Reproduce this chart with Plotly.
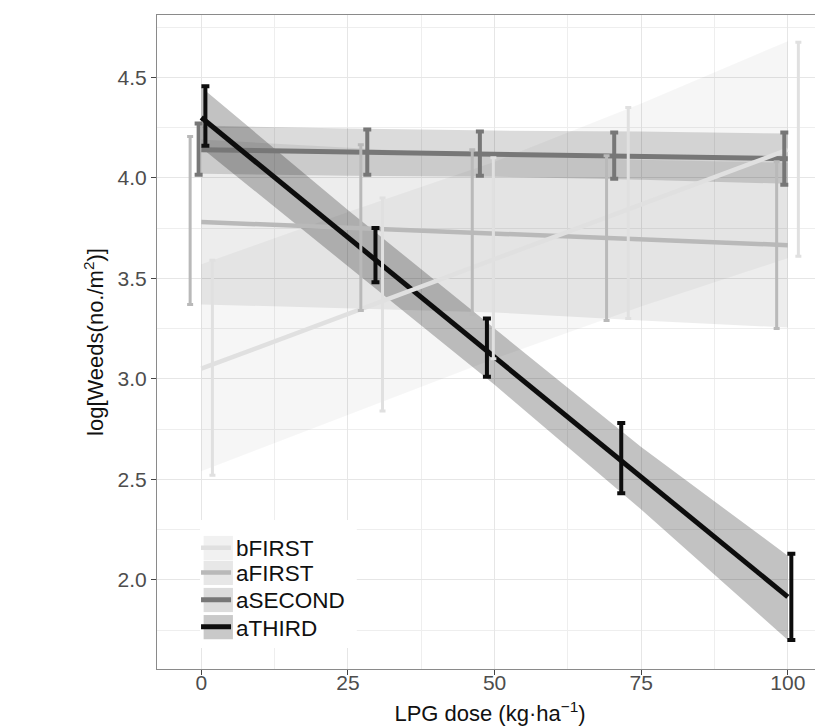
import plotly.graph_objects as go

# ---------------- data ----------------
series = ["bFIRST", "aFIRST", "aSECOND", "aTHIRD"]

# fitted regression lines (endpoints at dose 0 and 100)
fit_x = [0, 100]
fit_bFIRST = [3.05, 4.14]
fit_aFIRST = [3.78, 3.665]
fit_aSECOND = [4.14, 4.095]
fit_aTHIRD = [4.30, 1.915]

# confidence bands
band_x = [0, 25, 50, 75, 100]
band_hi_bFIRST = [3.57, 3.83, 4.08, 4.37, 4.68]
band_lo_bFIRST = [2.54, 2.82, 3.10, 3.36, 3.60]
band_hi_aFIRST = [4.19, 4.15, 4.11, 4.09, 4.075]
band_lo_aFIRST = [3.37, 3.35, 3.33, 3.29, 3.255]
band_hi_aSECOND = [4.26, 4.245, 4.235, 4.23, 4.22]
band_lo_aSECOND = [4.02, 4.01, 4.005, 3.99, 3.97]
band_hi_aTHIRD = [4.45, 3.84, 3.25, 2.66, 2.12]
band_lo_aTHIRD = [4.15, 3.56, 2.97, 2.35, 1.70]

# error bars (dodged dose positions)
eb_x_bFIRST = [1.9, 30.9, 49.8, 72.8, 101.8]
eb_lo_bFIRST = [2.52, 2.84, 3.10, 3.30, 3.61]
eb_hi_bFIRST = [3.59, 3.90, 4.10, 4.35, 4.675]
eb_x_aFIRST = [-1.9, 27.2, 46.2, 69.1, 98.1]
eb_lo_aFIRST = [3.37, 3.34, 3.32, 3.29, 3.25]
eb_hi_aFIRST = [4.205, 4.165, 4.14, 4.11, 4.08]
eb_x_aSECOND = [-0.45, 28.3, 47.5, 70.4, 99.4]
eb_lo_aSECOND = [4.015, 4.015, 4.01, 3.995, 3.965]
eb_hi_aSECOND = [4.27, 4.24, 4.23, 4.225, 4.225]
eb_x_aTHIRD = [0.7, 29.7, 48.7, 71.6, 100.6]
eb_lo_aTHIRD = [4.16, 3.48, 3.01, 2.43, 1.70]
eb_hi_aTHIRD = [4.455, 3.75, 3.30, 2.78, 2.13]

x_ticks = [0, 25, 50, 75, 100]
y_ticks = [2.0, 2.5, 3.0, 3.5, 4.0, 4.5]

fits = {"bFIRST": fit_bFIRST, "aFIRST": fit_aFIRST, "aSECOND": fit_aSECOND, "aTHIRD": fit_aTHIRD}
bands = {
    "bFIRST": (band_lo_bFIRST, band_hi_bFIRST),
    "aFIRST": (band_lo_aFIRST, band_hi_aFIRST),
    "aSECOND": (band_lo_aSECOND, band_hi_aSECOND),
    "aTHIRD": (band_lo_aTHIRD, band_hi_aTHIRD),
}
ebars = {
    "bFIRST": (eb_x_bFIRST, eb_lo_bFIRST, eb_hi_bFIRST),
    "aFIRST": (eb_x_aFIRST, eb_lo_aFIRST, eb_hi_aFIRST),
    "aSECOND": (eb_x_aSECOND, eb_lo_aSECOND, eb_hi_aSECOND),
    "aTHIRD": (eb_x_aTHIRD, eb_lo_aTHIRD, eb_hi_aTHIRD),
}

# ---------------- styles ----------------
line_color = {"bFIRST": "#e0e0e0", "aFIRST": "#b9b9b9", "aSECOND": "#777777", "aTHIRD": "#0d0d0d"}
line_width = {"bFIRST": 4.5, "aFIRST": 4.5, "aSECOND": 5, "aTHIRD": 5}
band_fill = {"bFIRST": "rgba(0,0,0,0.035)", "aFIRST": "rgba(0,0,0,0.07)",
             "aSECOND": "rgba(0,0,0,0.14)", "aTHIRD": "rgba(0,0,0,0.24)"}
key_fill = {"bFIRST": "#f1f1f1", "aFIRST": "#e7e7e7", "aSECOND": "#dcdcdc", "aTHIRD": "#c9c9c9"}
eb_thick = {"bFIRST": 3, "aFIRST": 3, "aSECOND": 4, "aTHIRD": 4}
eb_width = {"bFIRST": 3, "aFIRST": 3, "aSECOND": 4, "aTHIRD": 4}
legend_ref = {"bFIRST": "legend", "aFIRST": "legend2", "aSECOND": "legend3", "aTHIRD": "legend4"}
legend_y = {"legend": 0.185, "legend2": 0.147, "legend3": 0.1055, "legend4": 0.064}

FONT = "Liberation Sans, Arial, Helvetica, sans-serif"

fig = go.Figure()

# bands
for s in series:
    lo, hi = bands[s]
    fig.add_trace(go.Scatter(
        x=band_x + band_x[::-1], y=hi + lo[::-1], fill="toself",
        fillcolor=band_fill[s], line=dict(width=0), mode="lines",
        hoverinfo="skip", showlegend=False))

# fitted lines (bFIRST on top)
for s in ["aFIRST", "aSECOND", "aTHIRD", "bFIRST"]:
    fig.add_trace(go.Scatter(
        x=fit_x, y=fits[s], mode="lines", name=s, legend=legend_ref[s],
        line=dict(color=line_color[s], width=line_width[s])))

# error bars
for s in series:
    ex, lo, hi = ebars[s]
    mid = [(a + b) / 2 for a, b in zip(lo, hi)]
    fig.add_trace(go.Scatter(
        x=ex, y=mid, mode="markers", marker=dict(size=1, opacity=0),
        error_y=dict(type="data", symmetric=False,
                     array=[h - m for h, m in zip(hi, mid)],
                     arrayminus=[m - l for m, l in zip(mid, lo)],
                     color=line_color[s], thickness=eb_thick[s], width=eb_width[s]),
        hoverinfo="skip", showlegend=False))

# legend background box and grey key squares (decoration)
shapes = [dict(type="rect", xref="paper", yref="paper", x0=0.0646, x1=0.300, y0=0.032, y1=0.228,
               fillcolor="white", line=dict(width=0), layer="above")]
for s in series:
    yc = legend_y[legend_ref[s]]
    shapes.append(dict(type="rect", xref="paper", yref="paper", x0=0.070, x1=0.114,
                       y0=yc - 0.0185, y1=yc + 0.0185, fillcolor=key_fill[s],
                       line=dict(width=0), layer="above"))

legend_common = dict(x=0.0586, xanchor="left", yanchor="middle", bgcolor="rgba(0,0,0,0)",
                     font=dict(size=22.5, color="#111111"), itemwidth=30)

fig.update_layout(
    width=815, height=720,
    margin=dict(l=149, r=0, t=7, b=59),
    paper_bgcolor="white", plot_bgcolor="white",
    font=dict(family=FONT, size=21, color="#222222"),
    showlegend=True,
    shapes=shapes,
    legend=dict(legend_common, y=legend_y["legend"]),
    legend2=dict(legend_common, y=legend_y["legend2"]),
    legend3=dict(legend_common, y=legend_y["legend3"]),
    legend4=dict(legend_common, y=legend_y["legend4"]),
    xaxis=dict(
        range=[-7.55, 106.0], tickvals=x_ticks, ticktext=[str(v) for v in x_ticks],
        showgrid=True, gridcolor="#e6e6e6", gridwidth=1,
        minor=dict(dtick=12.5, tick0=0, showgrid=True, gridcolor="#eeeeee", gridwidth=0.7),
        showline=True, linecolor="#8a8a8a", linewidth=1.2, mirror=True,
        ticks="outside", ticklen=5, tickcolor="#444444", ticklabelstandoff=-10,
        tickfont=dict(size=21, color="#4d4d4d"), zeroline=False,
        title=dict(text="LPG dose (kg·ha<sup>−1</sup>)", font=dict(size=22, color="#111111"), standoff=12),
    ),
    yaxis=dict(
        range=[1.556, 4.81], tickvals=y_ticks, ticktext=[f"{v:.1f}" for v in y_ticks],
        showgrid=True, gridcolor="#e6e6e6", gridwidth=1,
        minor=dict(dtick=0.25, tick0=0, showgrid=True, gridcolor="#eeeeee", gridwidth=0.7),
        showline=True, linecolor="#8a8a8a", linewidth=1.2, mirror=False,
        ticks="outside", ticklen=5, tickcolor="#444444",
        tickfont=dict(size=21, color="#4d4d4d"), zeroline=False,
        title=dict(text="log[Weeds(no./m<sup>2</sup>)]", font=dict(size=22, color="#111111"), standoff=7),
    ),
)

fig.write_html("out.html")
